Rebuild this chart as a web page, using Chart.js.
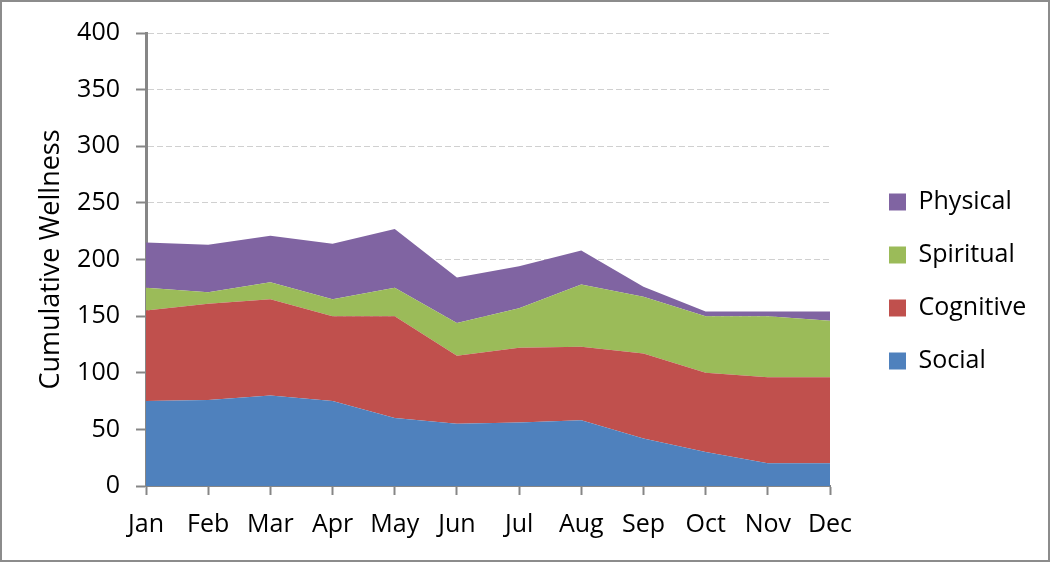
<!DOCTYPE html>
<html>
<head>
<meta charset="utf-8">
<script src="https://cdn.jsdelivr.net/npm/chart.js@4"></script>
<style>
  body { margin: 0; background: #fff; }
  #wrap { position: relative; width: 1050px; height: 562px; box-sizing: border-box; border: 2px solid #8c8c8c; }
</style>
</head>
<body>
<div id="wrap"><canvas id="chart"></canvas></div>
<script>
// data
const months = ['Jan', 'Feb', 'Mar', 'Apr', 'May', 'Jun', 'Jul', 'Aug', 'Sep', 'Oct', 'Nov', 'Dec'];
const social    = [75, 76, 80, 75, 60, 55, 56, 58, 42, 30, 20, 20];
const cognitive = [80, 85, 85, 75, 90, 60, 66, 65, 75, 70, 76, 76];
const spiritual = [20, 10, 15, 15, 25, 29, 35, 55, 50, 50, 54, 50];
const physical  = [40, 42, 41, 49, 52, 40, 37, 30, 9, 4, 4, 8];

const colors = {
    social: '#4f81bd',
    cognitive: '#c0504d',
    spiritual: '#9bbb59',
    physical: '#8064a2'
};

const font = "'Open Sans', 'Noto Sans', sans-serif";

function area(label, data, color, fill) {
    return {
        label: label,
        data: data,
        backgroundColor: color,
        borderColor: color,
        borderWidth: 0,
        pointRadius: 0,
        fill: fill,
        tension: 0
    };
}

// legend sits a bit higher than the middle of the canvas
const liftLegend = {
    id: 'liftLegend',
    afterLayout(chart) {
        if (chart.legend) chart.legend.bottom -= 23;
    }
};

new Chart(document.getElementById('chart'), {
    type: 'line',
    data: {
        labels: months,
        datasets: [
            area('Social', social, colors.social, 'origin'),
            area('Cognitive', cognitive, colors.cognitive, '-1'),
            area('Spiritual', spiritual, colors.spiritual, '-1'),
            area('Physical', physical, colors.physical, '-1')
        ]
    },
    plugins: [liftLegend],
    options: {
        responsive: true,
        maintainAspectRatio: false,
        animation: false,
        layout: { padding: { top: 29, right: 21, bottom: 5, left: 29 } },
        plugins: {
            legend: {
                position: 'right',
                reverse: true,
                labels: {
                    boxWidth: 17,
                    boxHeight: 17,
                    padding: 28,
                    color: '#000',
                    font: { family: font, size: 25 }
                }
            },
            tooltip: { enabled: false }
        },
        scales: {
            x: {
                offset: false,
                grid: { drawOnChartArea: false, tickLength: 9, tickColor: '#868686', tickWidth: 2 },
                border: { color: '#868686', width: 2 },
                ticks: { color: '#000', font: { family: font, size: 25 }, padding: 15, maxRotation: 0 }
            },
            y: {
                stacked: true,
                min: 0,
                max: 400,
                ticks: { stepSize: 50, color: '#000', font: { family: font, size: 25 }, padding: 16 },
                grid: { color: '#d0d0d0', tickColor: '#868686', tickLength: 10, tickWidth: 2, tickBorderDash: [] },
                border: { color: '#868686', width: 3, dash: [6, 3] },
                title: { display: true, text: 'Cumulative Wellness', color: '#000', font: { family: font, size: 27 }, padding: 4 },
                afterFit: (scale) => { scale.width = 115; }
            },
            // empty axis on the right, only keeps the gap before the legend
            gap: {
                position: 'right',
                display: true,
                grid: { display: false },
                border: { display: false },
                ticks: { display: false },
                afterFit: (scale) => { scale.width = 31; }
            }
        }
    }
});
</script>
</body>
</html>
